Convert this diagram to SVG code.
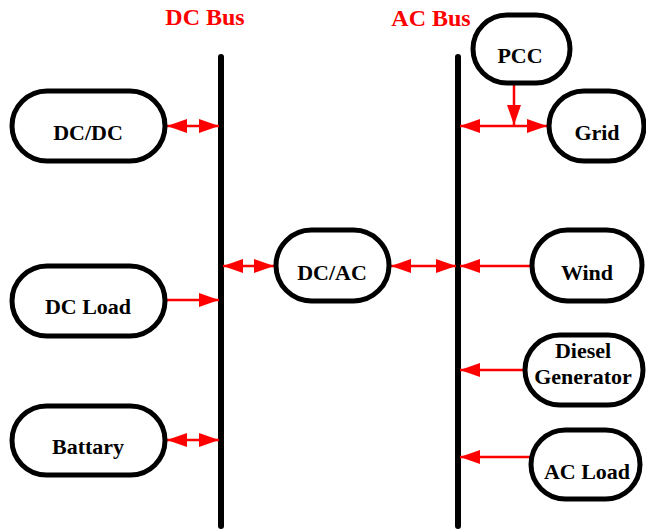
<svg xmlns="http://www.w3.org/2000/svg" width="646" height="530" viewBox="0 0 646 530">
<style>
.node{fill:#fff;stroke:#000;stroke-width:5}
.lbl{font-family:"Liberation Serif","Times New Roman",serif;font-weight:bold;font-size:22px;fill:#000;text-anchor:middle}
.bus{stroke:#000;stroke-width:6;stroke-linecap:round}
.bt{font-family:"Liberation Serif","Times New Roman",serif;font-weight:bold;font-size:24px;fill:#ff0000;text-anchor:middle}
.c{stroke:#ff0000;stroke-width:2.5;fill:none}
.one{marker-end:url(#ah)}
.two{marker-start:url(#ah);marker-end:url(#ah)}
</style>
<defs>
<marker id="ah" markerUnits="userSpaceOnUse" markerWidth="22" markerHeight="14" refX="20" refY="7" orient="auto-start-reverse">
<path d="M0,0 L20,7 L0,14 z" fill="#ff0000"/>
</marker>
</defs>
<g id="dc-bus">
<line class="bus" x1="221" y1="57" x2="221" y2="526"/>
<text class="bt" x="205" y="25">DC Bus</text>
</g>
<g id="ac-bus">
<line class="bus" x1="458" y1="57" x2="458" y2="526"/>
<text class="bt" x="431" y="26">AC Bus</text>
</g>
<g id="connectors">
<line class="c two" x1="167" y1="126" x2="219" y2="126"/>
<line class="c one" x1="165" y1="300" x2="219" y2="300"/>
<line class="c two" x1="167" y1="440" x2="219" y2="440"/>
<line class="c two" x1="223" y1="266" x2="274" y2="266"/>
<line class="c two" x1="391" y1="266" x2="456" y2="266"/>
<line class="c two" x1="460" y1="126" x2="547" y2="126"/>
<line class="c one" x1="514" y1="83" x2="514" y2="125"/>
<line class="c one" x1="532" y1="266" x2="460" y2="266"/>
<line class="c one" x1="525" y1="370" x2="460" y2="370"/>
<line class="c one" x1="531" y1="457" x2="460" y2="457"/>
</g>
<g id="dcdc">
<rect class="node" x="12" y="91" width="153" height="70" rx="35"/>
<text class="lbl" x="88" y="140">DC/DC</text>
</g>
<g id="dcload">
<rect class="node" x="12" y="266" width="153" height="70" rx="35"/>
<text class="lbl" x="88" y="314">DC Load</text>
</g>
<g id="battary">
<rect class="node" x="12" y="406" width="153" height="69" rx="34.5"/>
<text class="lbl" x="88" y="454">Battary</text>
</g>
<g id="dcac">
<rect class="node" x="276" y="230" width="113" height="71" rx="35.5"/>
<text class="lbl" x="332" y="280">DC/AC</text>
</g>
<g id="pcc">
<rect class="node" x="473" y="15" width="97" height="68" rx="34"/>
<text class="lbl" x="520" y="63">PCC</text>
</g>
<g id="grid">
<rect class="node" x="549" y="91" width="95" height="70" rx="35"/>
<text class="lbl" x="597" y="140">Grid</text>
</g>
<g id="wind">
<rect class="node" x="532" y="230" width="110" height="71" rx="35.5"/>
<text class="lbl" x="587" y="280">Wind</text>
</g>
<g id="diesel">
<rect class="node" x="525" y="335" width="118" height="70" rx="35"/>
<text class="lbl" x="583" y="358">Diesel</text>
<text class="lbl" x="583" y="384">Generator</text>
</g>
<g id="acload">
<rect class="node" x="531" y="430" width="109" height="69" rx="34.5"/>
<text class="lbl" x="587" y="479">AC Load</text>
</g>
</svg>
